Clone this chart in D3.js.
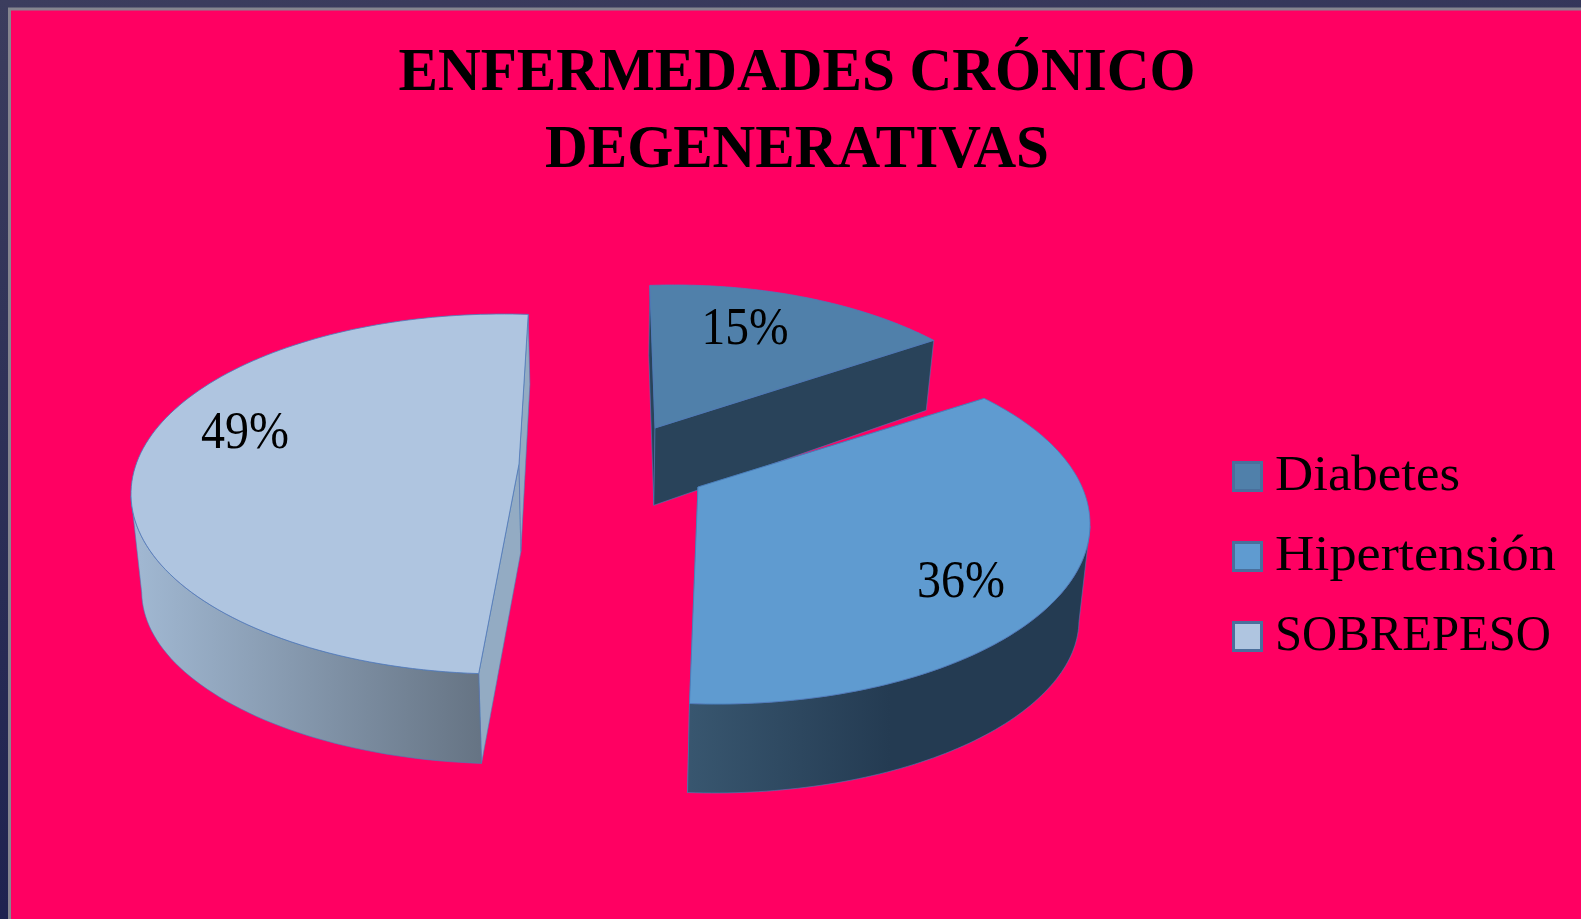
<!DOCTYPE html>
<meta charset="utf-8">
<style>

html, body {
  height: 100%;
  margin: 0;
  overflow: hidden;
}

svg {
  display: block;
}

text {
  font-family: "Liberation Serif", serif;
  fill: #000;
}

</style>

<body>
  <svg class="svg" width="1581" height="919"></svg>
</body>

<script src="https://d3js.org/d3.v7.min.js"></script>
<script>

/* data */
var categories = ['Diabetes', 'Hipertensión', 'SOBREPESO']
var values = [15, 36, 49]
var titleLines = ['ENFERMEDADES CRÓNICO', 'DEGENERATIVAS']

/* look */
var topColors = ['#5080aa', '#5f9bd0', '#afc5e0']
var cutColors = ['#29435a', '#29435a', '#93abc3']
var wallColors = [['#29435a', '#29435a'], ['#38566f', '#243b52'], ['#a0b7d1', '#667484']]
var wallExtent = [[650, 930], [690, 890], [140, 480]]

// every slice sits in its own spot, the fake perspective moves the apex off the ellipse centre
var ry = 180
var spots = [
  {cx: 674, cy: 465, rx: 360, ax: -19, ay: -37, turn: 2.4, spread: 1.09},
  {cx: 717, cy: 524, rx: 373, ax: -19, ay: -37, turn: 1.4, spread: 0.955},
  {cx: 504, cy: 494, rx: 373, ax: 15, ay: -30, turn: 2.7, spread: 1}
]
var labelSpots = [[745, 344], [961, 597], [245, 448]]
var labelWidths = [87, 88, 88]

var svg = d3.select('.svg')
var defs = svg.append('defs')

var frame = defs.append('linearGradient').attr('id', 'frame')
  .attr('x1', 0).attr('y1', 0).attr('x2', 0.25).attr('y2', 1)
frame.append('stop').attr('offset', 0).attr('stop-color', '#3c3d5e')
frame.append('stop').attr('offset', 1).attr('stop-color', '#1d214f')

svg.append('rect').attr('width', 1581).attr('height', 919).attr('fill', 'url(#frame)')
svg.append('rect')
  .attr('x', 9.5).attr('y', 9)
  .attr('width', 1600).attr('height', 950)
  .attr('fill', '#ff0062')
  .attr('stroke', '#85858f')
  .attr('stroke-width', 3)

svg.selectAll('.title')
  .data(titleLines)
  .enter().append('text')
  .attr('class', 'title')
  .attr('x', 797)
  .attr('y', function(d, i) { return 90 + i * 77 })
  .attr('text-anchor', 'middle')
  .attr('font-size', 61)
  .attr('font-weight', 'bold')
  .attr('textLength', function(d, i) { return i == 0 ? 797 : 504 })
  .attr('lengthAdjust', 'spacingAndGlyphs')
  .text(function(d) { return d })

var pie = d3.pie().sort(null)
  .startAngle(-1 * Math.PI / 180)
  .endAngle(359 * Math.PI / 180)

var slices = pie(values)

// shoot a ray from the apex at the pie angle until it hits the ellipse
function rim(s, ang) {
  var dx = Math.sin(ang), dy = -Math.cos(ang)
  var ox = s.ax / s.rx, oy = s.ay / ry
  var b = ox * dx + oy * dy
  var c = ox * ox + oy * oy - 1
  var t = -b + Math.sqrt(b * b - c)
  return [s.cx + s.rx * (ox + t * dx), s.cy + ry * (oy + t * dy)]
}

// how far the bottom face hangs below the top face
var depth = d3.scaleLinear()
  .domain([340, 420, 497, 600, 700])
  .range([70, 75, 97, 92, 89])
  .clamp(true)

// where a point of the top face lands on the bottom face
function lower(p) {
  return [p[0] + (603 - p[0]) * 0.0226, p[1] + depth(p[1])]
}

function arcPoints(s, a0, a1) {
  var turn = s.turn * Math.PI / 180
  var mid = (a0 + a1) / 2
  var half = (a1 - a0) / 2 * s.spread
  return d3.range(0, 121).map(function(i) {
    return rim(s, mid + turn - half + 2 * half * i / 120)
  })
}

var line = d3.line()

slices.forEach(function(d, i) {
  var s = spots[i]
  var apex = [s.cx + s.ax, s.cy + s.ay]
  var arc = arcPoints(s, d.startAngle, d.endAngle)
  var first = arc[0], last = arc[arc.length - 1]
  var g = svg.append('g').attr('class', 'slice')

  var grad = defs.append('linearGradient')
    .attr('id', 'wall' + i)
    .attr('gradientUnits', 'userSpaceOnUse')
    .attr('x1', wallExtent[i][0]).attr('y1', 0)
    .attr('x2', wallExtent[i][1]).attr('y2', 0)
  grad.append('stop').attr('offset', 0).attr('stop-color', wallColors[i][0])
  grad.append('stop').attr('offset', 1).attr('stop-color', wallColors[i][1])

  // two cut walls
  ;[[first, apex], [apex, last]].forEach(function(e) {
    g.append('path')
      .attr('d', line([e[0], e[1], lower(e[1]), lower(e[0])]) + 'Z')
      .attr('fill', cutColors[i])
      .attr('stroke', '#4a7ebb')
      .attr('stroke-width', 0.6)
  })

  // outer wall, only the part facing the viewer
  var front = arc.filter(function(p) { return p[1] >= s.cy })
  if (front.length > 1) {
    g.append('path')
      .attr('d', line(front.concat(front.slice().reverse().map(lower))) + 'Z')
      .attr('fill', 'url(#wall' + i + ')')
      .attr('stroke', '#4a7ebb')
      .attr('stroke-width', 0.6)
  }

  g.append('path')
    .attr('d', line([apex].concat(arc)) + 'Z')
    .attr('fill', topColors[i])
    .attr('stroke', '#4a7ebb')
    .attr('stroke-width', 0.8)
})

svg.selectAll('.pct')
  .data(slices)
  .enter().append('text')
  .attr('class', 'pct')
  .attr('x', function(d, i) { return labelSpots[i][0] })
  .attr('y', function(d, i) { return labelSpots[i][1] })
  .attr('text-anchor', 'middle')
  .attr('font-size', 52)
  .attr('textLength', function(d, i) { return labelWidths[i] })
  .attr('lengthAdjust', 'spacingAndGlyphs')
  .text(function(d) { return d.data + '%' })

/* legend */
var legendY = d3.scalePoint().domain(categories).range([490, 650])
var legendWidths = [185, 281, 276]

var legend = svg.selectAll('.legend')
  .data(categories)
  .enter().append('g')
  .attr('class', 'legend')

legend.append('rect')
  .attr('x', 1233.5)
  .attr('y', function(d) { return legendY(d) - 27.5 })
  .attr('width', 28)
  .attr('height', 28)
  .attr('fill', function(d, i) { return topColors[i] })
  .attr('stroke', '#4a6f9c')
  .attr('stroke-width', 3)

legend.append('text')
  .attr('x', 1275)
  .attr('y', function(d) { return legendY(d) })
  .attr('font-size', 50)
  .attr('textLength', function(d, i) { return legendWidths[i] })
  .attr('lengthAdjust', 'spacingAndGlyphs')
  .text(function(d) { return d })

</script>
